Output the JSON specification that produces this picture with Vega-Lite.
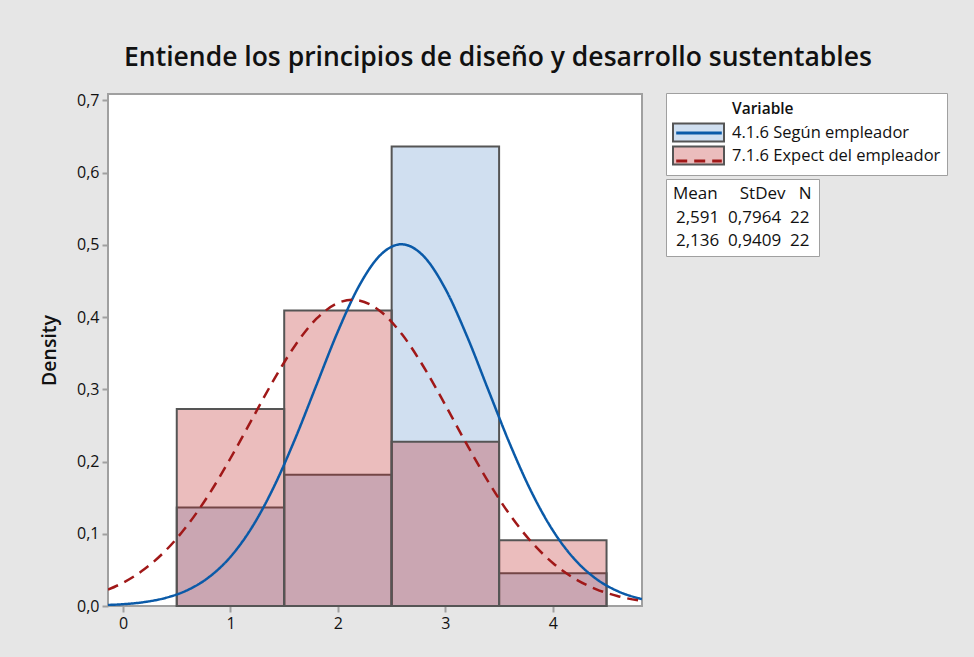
{
  "$schema": "https://vega.github.io/schema/vega-lite/v6.json",
  "width": 534,
  "height": 512,
  "autosize": {"type": "none"},
  "padding": {"left": 108, "top": 94, "right": 332, "bottom": 51},
  "background": "#e6e6e6",
  "config": {
    "font": "Open Sans",
    "view": {"fill": "white", "stroke": "#a0a0a0", "strokeWidth": 2},
    "axis": {"domain": false, "grid": false, "tickColor": "#a0a0a0", "tickSize": 6, "tickWidth": 2, "labelFont": "Open Sans", "labelFontSize": 16, "labelColor": "#111111", "labelPadding": 3, "titleFont": "Open Sans", "titleColor": "#111111"}
  },
  "title": {"text": "Entiende los principios de diseño y desarrollo sustentables", "font": "Open Sans", "fontSize": 26.5, "fontWeight": 600, "anchor": "middle", "dx": 123, "offset": 0, "baseline": "alphabetic", "color": "#111111"},
  "datasets": {
    "blueBars": [
      {"variable": "4.1.6 Según empleador", "lo": 0.5, "hi": 1.5, "density": 0.1364},
      {"variable": "4.1.6 Según empleador", "lo": 1.5, "hi": 2.5, "density": 0.1818},
      {"variable": "4.1.6 Según empleador", "lo": 2.5, "hi": 3.5, "density": 0.6364},
      {"variable": "4.1.6 Según empleador", "lo": 3.5, "hi": 4.5, "density": 0.0455}
    ],
    "redBars": [
      {"variable": "7.1.6 Expect del empleador", "lo": 0.5, "hi": 1.5, "density": 0.2727},
      {"variable": "7.1.6 Expect del empleador", "lo": 1.5, "hi": 2.5, "density": 0.4091},
      {"variable": "7.1.6 Expect del empleador", "lo": 2.5, "hi": 3.5, "density": 0.2273},
      {"variable": "7.1.6 Expect del empleador", "lo": 3.5, "hi": 4.5, "density": 0.0909}
    ],
    "curves": [
      {"series": "4.1.6 Según empleador", "x": -0.14, "density": 0.0014},
      {"series": "4.1.6 Según empleador", "x": 0, "density": 0.0025},
      {"series": "4.1.6 Según empleador", "x": 0.2, "density": 0.0055},
      {"series": "4.1.6 Según empleador", "x": 0.4, "density": 0.0114},
      {"series": "4.1.6 Según empleador", "x": 0.6, "density": 0.022},
      {"series": "4.1.6 Según empleador", "x": 0.8, "density": 0.04},
      {"series": "4.1.6 Según empleador", "x": 1.0, "density": 0.0681},
      {"series": "4.1.6 Según empleador", "x": 1.2, "density": 0.109},
      {"series": "4.1.6 Según empleador", "x": 1.4, "density": 0.1638},
      {"series": "4.1.6 Según empleador", "x": 1.6, "density": 0.231},
      {"series": "4.1.6 Según empleador", "x": 1.8, "density": 0.3059},
      {"series": "4.1.6 Según empleador", "x": 2.0, "density": 0.3804},
      {"series": "4.1.6 Según empleador", "x": 2.2, "density": 0.4441},
      {"series": "4.1.6 Según empleador", "x": 2.4, "density": 0.4867},
      {"series": "4.1.6 Según empleador", "x": 2.591, "density": 0.5009},
      {"series": "4.1.6 Según empleador", "x": 2.8, "density": 0.484},
      {"series": "4.1.6 Según empleador", "x": 3.0, "density": 0.4391},
      {"series": "4.1.6 Según empleador", "x": 3.2, "density": 0.374},
      {"series": "4.1.6 Según empleador", "x": 3.4, "density": 0.299},
      {"series": "4.1.6 Según empleador", "x": 3.6, "density": 0.2245},
      {"series": "4.1.6 Según empleador", "x": 3.8, "density": 0.1583},
      {"series": "4.1.6 Según empleador", "x": 4.0, "density": 0.1047},
      {"series": "4.1.6 Según empleador", "x": 4.2, "density": 0.0651},
      {"series": "4.1.6 Según empleador", "x": 4.4, "density": 0.038},
      {"series": "4.1.6 Según empleador", "x": 4.6, "density": 0.0208},
      {"series": "4.1.6 Según empleador", "x": 4.8, "density": 0.0107},
      {"series": "4.1.6 Según empleador", "x": 4.83, "density": 0.0096},
      {"series": "7.1.6 Expect del empleador", "x": -0.14, "density": 0.0227},
      {"series": "7.1.6 Expect del empleador", "x": 0, "density": 0.0322},
      {"series": "7.1.6 Expect del empleador", "x": 0.2, "density": 0.0511},
      {"series": "7.1.6 Expect del empleador", "x": 0.4, "density": 0.0773},
      {"series": "7.1.6 Expect del empleador", "x": 0.6, "density": 0.1119},
      {"series": "7.1.6 Expect del empleador", "x": 0.8, "density": 0.1547},
      {"series": "7.1.6 Expect del empleador", "x": 1.0, "density": 0.2046},
      {"series": "7.1.6 Expect del empleador", "x": 1.2, "density": 0.2585},
      {"series": "7.1.6 Expect del empleador", "x": 1.4, "density": 0.3123},
      {"series": "7.1.6 Expect del empleador", "x": 1.6, "density": 0.3605},
      {"series": "7.1.6 Expect del empleador", "x": 1.8, "density": 0.3978},
      {"series": "7.1.6 Expect del empleador", "x": 2.0, "density": 0.4196},
      {"series": "7.1.6 Expect del empleador", "x": 2.136, "density": 0.424},
      {"series": "7.1.6 Expect del empleador", "x": 2.4, "density": 0.4076},
      {"series": "7.1.6 Expect del empleador", "x": 2.6, "density": 0.3755},
      {"series": "7.1.6 Expect del empleador", "x": 2.8, "density": 0.3306},
      {"series": "7.1.6 Expect del empleador", "x": 3.0, "density": 0.2782},
      {"series": "7.1.6 Expect del empleador", "x": 3.2, "density": 0.2237},
      {"series": "7.1.6 Expect del empleador", "x": 3.4, "density": 0.172},
      {"series": "7.1.6 Expect del empleador", "x": 3.6, "density": 0.1264},
      {"series": "7.1.6 Expect del empleador", "x": 3.8, "density": 0.0888},
      {"series": "7.1.6 Expect del empleador", "x": 4.0, "density": 0.0596},
      {"series": "7.1.6 Expect del empleador", "x": 4.2, "density": 0.0382},
      {"series": "7.1.6 Expect del empleador", "x": 4.4, "density": 0.0235},
      {"series": "7.1.6 Expect del empleador", "x": 4.6, "density": 0.0138},
      {"series": "7.1.6 Expect del empleador", "x": 4.8, "density": 0.0077},
      {"series": "7.1.6 Expect del empleador", "x": 4.83, "density": 0.007}
    ],
    "stats": [
      {"series": "4.1.6 Según empleador", "mean": 2.591, "stats": "2,591\u00a0\u00a00,7964\u00a0\u00a022"},
      {"series": "7.1.6 Expect del empleador", "mean": 2.136, "stats": "2,136\u00a0\u00a00,9409\u00a0\u00a022"}
    ]
  },
  "layer": [
    {
      "data": {"name": "blueBars"},
      "mark": {"type": "rect", "stroke": "#555555", "strokeWidth": 2},
      "encoding": {
        "x": {"field": "lo", "type": "quantitative", "scale": {"domain": [-0.14, 4.83], "nice": false, "zero": false},
          "axis": {"title": null, "values": [0, 1, 2, 3, 4], "format": "d"}},
        "x2": {"field": "hi"},
        "y": {"field": "density", "type": "quantitative", "scale": {"domain": [0, 0.709], "nice": false},
          "axis": {"title": "Density", "titleFontSize": 19.5, "titleFontWeight": 600, "titlePadding": 17, "values": [0, 0.1, 0.2, 0.3, 0.4, 0.5, 0.6, 0.7], "labelExpr": "replace(format(datum.value, '.1f'), '.', ',')"}},
        "y2": {"datum": 0},
        "fill": {"field": "variable", "type": "nominal",
          "scale": {"domain": ["4.1.6 Según empleador", "7.1.6 Expect del empleador"], "range": ["#d0dff0", "#bc2626"]},
          "legend": {"orient": "none", "legendX": 558, "legendY": -1, "title": "Variable", "titleFont": "Open Sans", "titleFontSize": 15.5, "titleFontWeight": 600, "titleColor": "#111111", "titlePadding": 8,
            "labelFont": "Open Sans", "labelFontSize": 16.5, "labelColor": "#111111", "labelOffset": 40, "labelLimit": 400, "rowPadding": -3,
            "symbolType": "M-1,-1H4.667V1H-1Z", "symbolSize": 324, "symbolStrokeColor": "#555555", "symbolStrokeWidth": 2,
            "fillColor": "white", "strokeColor": "#a0a0a0", "padding": 6,
            "encode": {"title": {"update": {"dx": {"value": 60}, "dy": {"value": 3}}},
              "symbols": {"update": {"stroke": {"value": "#555555"}, "strokeWidth": {"value": 2}, "opacity": {"value": 1},
                "fillOpacity": {"signal": "datum.value === '7.1.6 Expect del empleador' ? 0.3 : 1"}}}}}}
      }
    },
    {
      "data": {"name": "redBars"},
      "mark": {"type": "rect", "stroke": "#555555", "strokeWidth": 2, "fillOpacity": 0.3},
      "encoding": {
        "x": {"field": "lo", "type": "quantitative"},
        "x2": {"field": "hi"},
        "y": {"field": "density", "type": "quantitative"},
        "y2": {"datum": 0},
        "fill": {"field": "variable", "type": "nominal"}
      }
    },
    {
      "data": {"name": "curves"},
      "mark": {"type": "line", "strokeWidth": 2.5, "interpolate": "monotone", "clip": true},
      "encoding": {
        "x": {"field": "x", "type": "quantitative"},
        "y": {"field": "density", "type": "quantitative"},
        "stroke": {"field": "series", "type": "nominal",
          "scale": {"range": ["#0a5aa8", "#a01818"]},
          "legend": {"orient": "none", "legendX": 558, "legendY": -1, "title": "\u00a0", "titleFont": "Open Sans", "titleFontSize": 15.5, "titleFontWeight": 600, "titleColor": "transparent", "titlePadding": 8,
            "labelFont": "Open Sans", "labelFontSize": 16.5, "labelColor": "transparent", "labelOffset": 40, "labelLimit": 400, "rowPadding": -3,
            "labelExpr": "''",
            "symbolType": "M-1,-1M4.667,1M-0.7,0H4.367", "symbolSize": 324, "symbolStrokeWidth": 3, "symbolFillColor": "transparent", "padding": 6}},
        "strokeDash": {"field": "series", "type": "nominal",
          "scale": {"range": [[1, 0], [11, 7]]},
          "legend": {"orient": "none", "legendX": 558, "legendY": -1, "title": "\u00a0", "titleFont": "Open Sans", "titleFontSize": 15.5, "titleFontWeight": 600, "titleColor": "transparent", "titlePadding": 8,
            "labelFont": "Open Sans", "labelFontSize": 16.5, "labelColor": "transparent", "labelOffset": 40, "labelLimit": 400, "rowPadding": -3,
            "labelExpr": "''",
            "symbolType": "M-1,-1M4.667,1M-0.7,0H4.367", "symbolSize": 324, "symbolStrokeWidth": 3, "symbolFillColor": "transparent", "padding": 6}}
      }
    },
    {
      "data": {"name": "stats"},
      "mark": {"type": "point", "opacity": 0},
      "encoding": {
        "x": {"field": "mean", "type": "quantitative"},
        "y": {"datum": 0},
        "shape": {"field": "stats", "type": "nominal",
          "scale": {"domain": ["2,591\u00a0\u00a00,7964\u00a0\u00a022", "2,136\u00a0\u00a00,9409\u00a0\u00a022"]},
          "legend": {"orient": "none", "legendX": 558, "legendY": 85, "title": "Mean\u00a0\u00a0\u00a0\u00a0\u00a0StDev\u00a0\u00a0\u00a0N", "titleFont": "Open Sans", "titleFontSize": 17, "titleFontWeight": 500, "titleColor": "#111111", "titlePadding": 6,
            "labelFont": "Open Sans", "labelFontSize": 17, "labelColor": "#111111", "labelOffset": -14, "rowPadding": 5, "labelLimit": 400,
            "symbolSize": 0, "symbolStrokeWidth": 0, "symbolOpacity": 0,
            "fillColor": "white", "strokeColor": "#a0a0a0", "padding": 7}}
      }
    }
  ]
}
